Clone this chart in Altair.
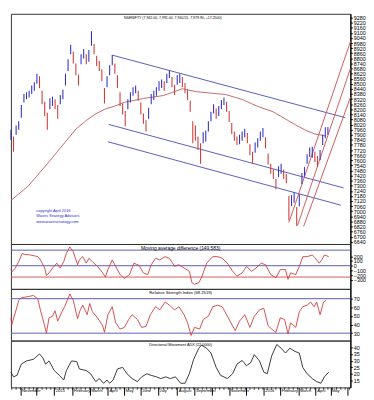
import altair as alt
import pandas as pd

# ---------------- data ----------------
# price bars: one bar per 3 trading days, high / low
bar_day = list(range(0, 369, 3))
hi = [7960, 7880, 8010, 8060, 8250, 8380, 8400, 8420, 8480, 8520,
      8620, 8590, 8420, 8290, 8160, 8330, 8350, 8320, 8250, 8370,
      8430, 8620, 8790, 8960, 8880, 8740, 8610, 8850, 8910, 8850,
      8900, 9119, 8970, 8830, 8770, 8670, 8450, 8590, 8720, 8840,
      8740, 8600, 8400, 8270, 8180, 8320, 8400, 8460, 8480, 8420,
      8280, 8150, 8070, 8220, 8380, 8420, 8460, 8530, 8550, 8530,
      8620, 8655, 8580, 8490, 8600, 8620, 8580, 8510, 8430, 8300,
      8060, 8010, 7880, 7800, 7930, 7950, 8060, 8170, 8260, 8210,
      8240, 8310, 8340, 8290, 8180, 8040, 7940, 7880, 7900, 7940,
      7970, 7920, 7790, 7700, 7810, 7860, 7940, 7980, 7870, 7680,
      7560, 7490, 7380, 7530, 7560, 7490, 7440, 7180, 7190, 7220,
      7050, 7200, 7450, 7520, 7670, 7750, 7760, 7700, 7650, 7720,
      7900, 7990, 7991]
lo = [7840, 7700, 7900, 7960, 8100, 8280, 8320, 8340, 8380, 8420,
      8500, 8450, 8260, 8120, 7960, 8200, 8240, 8200, 8090, 8260,
      8320, 8480, 8650, 8850, 8740, 8600, 8480, 8730, 8800, 8730,
      8760, 8950, 8850, 8710, 8650, 8530, 8270, 8460, 8600, 8720,
      8620, 8450, 8240, 8140, 8000, 8200, 8280, 8360, 8390, 8300,
      8140, 8030, 7940, 8090, 8260, 8310, 8360, 8420, 8450, 8420,
      8510, 8570, 8460, 8370, 8490, 8510, 8460, 8390, 8310, 8170,
      7800, 7830, 7720, 7560, 7800, 7820, 7940, 8060, 8150, 8090,
      8120, 8200, 8250, 8170, 8050, 7910, 7830, 7780, 7790, 7830,
      7870, 7800, 7660, 7560, 7690, 7750, 7830, 7870, 7740, 7550,
      7440, 7380, 7260, 7400, 7440, 7380, 7330, 6890, 7060, 7100,
      6825, 7060, 7320, 7410, 7560, 7640, 7630, 7580, 7520, 7600,
      7780, 7860, 7900]

ma_day = [0, 20, 42, 64, 76, 87, 98, 109, 120, 131, 153, 176, 198, 214,
          237, 248, 267, 284, 303, 322, 340, 351, 364]
ma_val = [7127, 7297, 7558, 7830, 7977, 8068, 8147, 8204, 8238, 8283, 8328,
          8362, 8442, 8408, 8385, 8374, 8317, 8238, 8170, 8056, 7954, 7909, 7887]

# falling channel (blue) and rising channel (red): start / end points
chan_day1 = [117, 113, 112]
chan_val1 = [8838, 8022, 7818]
chan_day2 = [386, 384, 381]
chan_val2 = [8102, 7275, 7071]
rise_day1 = [321, 331, 338]
rise_val1 = [6867, 6833, 6821]
rise_day2 = [392, 392, 392]
rise_val2 = [8997, 8680, 8340]

mad_day = [0, 1, 5, 9, 13, 16, 23, 31, 34, 39, 41, 44, 48, 53, 57, 61, 64, 68, 72, 77,
           79, 83, 87, 90, 94, 100, 106, 109, 112, 117, 122, 126, 131, 137, 142, 148,
           153, 158, 162, 167, 172, 178, 183, 189, 194, 200, 206, 209, 212, 217, 220,
           226, 233, 239, 244, 250, 256, 261, 267, 272, 278, 283, 289, 294, 300, 306,
           311, 317, 320, 323, 329, 333, 337, 342, 348, 351, 356, 359, 362, 367]
mad_val = [-82, -132, -49, 89, 260, 239, 227, 192, 124, -49, -206, -152, -49, 54, -49,
           89, 260, 398, 295, 21, 124, 192, 54, 157, 89, -14, -152, -241, -82, 124,
           -49, -186, -268, -186, 54, 6, -152, -186, 21, 157, 124, 192, 157, -14, 21,
           -49, -117, -359, -392, -359, -255, 54, 192, 192, 157, 54, -117, -220, -152,
           -14, -117, -49, 54, 21, -186, -255, -82, -82, -288, -152, -186, -14, 192,
           192, 227, 171, 54, 124, 227, 192]
mad_upper, mad_zero, mad_lower = 330, 0, -240

rsi_day = [0, 1, 6, 9, 12, 20, 26, 31, 34, 39, 41, 44, 48, 51, 54, 59, 62, 68, 72, 77,
           80, 83, 88, 91, 94, 100, 106, 108, 112, 117, 121, 126, 131, 136, 140, 146,
           151, 156, 161, 167, 172, 178, 183, 189, 194, 200, 204, 208, 212, 218, 222,
           228, 233, 239, 244, 250, 256, 259, 264, 270, 276, 281, 287, 292, 297, 301,
           306, 311, 316, 320, 323, 329, 333, 337, 342, 346, 350, 353, 357, 361, 364]
rsi_val = [47.8, 40, 57, 68, 71, 72.5, 73.7, 70, 57, 38.5, 30, 47.8, 49.6, 56, 44, 55,
           60.7, 75.5, 68, 46.7, 57, 62.5, 51.4, 64.4, 55, 47.8, 38.5, 31, 51.4, 60.7,
           42, 34.8, 36.7, 45.9, 51.4, 45.9, 36.7, 37.8, 51.4, 60.7, 57, 66.2, 62.5, 57,
           60.7, 51.4, 42, 27.3, 36.7, 34.8, 45.9, 49.6, 60.7, 62.5, 60.7, 49.6, 38.5,
           33, 44, 51.4, 36.7, 49.6, 57, 58.9, 38.5, 34.8, 31, 47.8, 45.9, 29.2, 42,
           36.7, 55, 60.7, 62.5, 66.2, 60.7, 66.2, 51.4, 66.2, 68.1]
rsi_levels = [70, 30]

adx_day = [0, 3, 7, 12, 18, 26, 33, 37, 40, 44, 50, 56, 61, 64, 70, 76, 79, 87, 92, 98,
           102, 107, 111, 114, 118, 123, 129, 134, 140, 146, 151, 157, 162, 168, 173,
           179, 184, 190, 196, 201, 206, 211, 217, 220, 226, 231, 237, 242, 250, 256,
           261, 267, 272, 277, 281, 287, 292, 296, 301, 307, 312, 317, 322, 328, 333,
           337, 342, 348, 353, 358, 362, 367]
adx_val = [21.4, 17.9, 19, 27.4, 29.8, 31, 35, 32, 27.4, 29.8, 22.6, 19, 15.5, 22.6,
           29.8, 29.3, 23.8, 22.6, 20.2, 14.3, 16.6, 13.1, 15.5, 13.1, 15.5, 23.8, 25,
           20.2, 16.6, 14.3, 17.9, 20.2, 19, 17.9, 16.6, 17.9, 16.6, 17.9, 13.1, 13.1,
           20.2, 31, 39.3, 41.6, 39.3, 35.7, 25, 19, 16.6, 20.2, 27.4, 30.2, 26.2, 28.6,
           34.5, 29.8, 21.4, 20.2, 33.4, 42.1, 39.3, 35.7, 39.3, 36.9, 35.7, 25, 20.2,
           16.6, 14.3, 13.1, 17.9, 21.4]

price_ticks = list(range(6640, 9281, 60))
mad_ticks = [-300, -200, -100, 0, 100, 200]
rsi_ticks = [30, 40, 50, 60, 70]
adx_ticks = [15, 20, 25, 30, 35, 40]

month_day = [11, 29, 50, 71, 91, 112, 131, 150, 170, 192, 212, 232, 252, 272, 292,
             311, 332, 352, 369, 389]
month_label = ["November", "", "2015", "February", "March", "April", "May", "June",
               "July", "August", "September", "", "November", "", "2016", "February",
               "March", "April", "May", ""]
week_day = list(range(1, 392, 5))

title_main = "NSENIFTY (7,942.00, 7,991.00, 7,940.55, 7,979.90, +17.2500)"
title_mad = "Moving average difference (149.583)"
title_rsi = "Relative Strength Index (68.2519)"
title_adx = "Directional Movement ADX (22.0000)"
copyright_lines = ["copyright April 2016", "Waves Strategy Advisors", "www.wavesstrategy.com"]

# ---------------- layout / style ----------------
W = 348
H_MAIN, H_MAD, H_RSI, H_ADX = 236, 46, 53, 48
FONT = "Liberation Sans"
BLUE = "#3434c8"
RED = "#d03c3c"
LBLUE = "#5a5ab8"
LRED = "#d05a5a"

xs = alt.Scale(domain=[0, 392], nice=False, zero=False)
x_none = alt.X("day:Q", scale=xs, axis=None)


def raxis(vals):
    return alt.Axis(orient="right", values=vals, title=None, grid=False, format="d",
                    labelFontSize=5.5, labelFont=FONT, labelColor="#000",
                    labelPadding=1, tickSize=2, tickColor="#000",
                    domainColor="#000", domainWidth=1.2, labelOverlap=False,
                    labelFlush=False)


def text_layer(txt, x, y, size, color="#000", align="center"):
    return alt.Chart(pd.DataFrame({"t": [txt]})).mark_text(
        font=FONT, fontSize=size, color=color, align=align, baseline="middle"
    ).encode(x=alt.value(x), y=alt.value(y), text="t:N")


# ---------------- main price panel ----------------
bars = pd.DataFrame({"day": bar_day, "price": lo, "price_hi": hi})
mid = [(a + b) / 2 for a, b in zip(hi, lo)]
bars["dir"] = ["up" if i == 0 or mid[i] >= mid[i - 1] else "down" for i in range(len(mid))]

py = alt.Scale(domain=[6614, 9325], nice=False, zero=False)
pax = raxis(price_ticks)

bar_layer = alt.Chart(bars).mark_rule(strokeWidth=1.1).encode(
    x=x_none,
    y=alt.Y("price:Q", scale=py, axis=pax),
    y2="price_hi:Q",
    color=alt.Color("dir:N", scale=alt.Scale(domain=["up", "down"], range=[BLUE, RED]),
                    legend=None),
)
ma_layer = alt.Chart(pd.DataFrame({"day": ma_day, "price": ma_val})).mark_line(
    color="#c46a6a", strokeWidth=1).encode(
    x=x_none, y=alt.Y("price:Q", scale=py, axis=pax))

chan_df = pd.DataFrame({"day": chan_day1, "price": chan_val1,
                        "day_end": chan_day2, "price_end": chan_val2})
chan_layer = alt.Chart(chan_df).mark_rule(color=LBLUE, strokeWidth=1).encode(
    x=x_none, y=alt.Y("price:Q", scale=py, axis=pax), x2="day_end:Q", y2="price_end:Q")

rise_df = pd.DataFrame({"day": rise_day1, "price": rise_val1,
                        "day_end": rise_day2, "price_end": rise_val2})
rise_layer = alt.Chart(rise_df).mark_rule(color=LRED, strokeWidth=1).encode(
    x=x_none, y=alt.Y("price:Q", scale=py, axis=pax), x2="day_end:Q", y2="price_end:Q")

main = alt.layer(
    chan_layer, rise_layer, ma_layer, bar_layer,
    text_layer(title_main, 166, 4, 3.6),
    text_layer(copyright_lines[0], 26, 202, 4, "#2a2ad0", "left"),
    text_layer(copyright_lines[1], 26, 207.5, 4, "#2a2ad0", "left"),
    text_layer(copyright_lines[2], 26, 213, 4, "#2a2ad0", "left"),
).properties(width=W, height=H_MAIN)

# ---------------- moving average difference ----------------
my = alt.Scale(domain=[-490, 460], nice=False, zero=False)
max_ = raxis(mad_ticks)
mad = alt.layer(
    alt.Chart(pd.DataFrame({"v": [mad_upper, mad_zero]})).mark_rule(
        color=LBLUE, strokeWidth=1).encode(y=alt.Y("v:Q", scale=my, axis=max_)),
    alt.Chart(pd.DataFrame({"v": [mad_lower]})).mark_rule(
        color=LRED, strokeWidth=1).encode(y=alt.Y("v:Q", scale=my, axis=max_)),
    alt.Chart(pd.DataFrame({"day": mad_day, "v": mad_val})).mark_line(
        color=RED, strokeWidth=0.9).encode(x=x_none, y=alt.Y("v:Q", scale=my, axis=max_)),
    text_layer(title_mad, 174, 4.5, 5),
).properties(width=W, height=H_MAD)

# ---------------- RSI ----------------
ry = alt.Scale(domain=[21.4, 81.4], nice=False, zero=False)
rax = raxis(rsi_ticks)
rsi = alt.layer(
    alt.Chart(pd.DataFrame({"v": rsi_levels})).mark_rule(
        color=LBLUE, strokeWidth=1).encode(y=alt.Y("v:Q", scale=ry, axis=rax)),
    alt.Chart(pd.DataFrame({"day": rsi_day, "v": rsi_val})).mark_line(
        color=RED, strokeWidth=0.9).encode(x=x_none, y=alt.Y("v:Q", scale=ry, axis=rax)),
    text_layer(title_rsi, 174, 4.5, 4.3),
).properties(width=W, height=H_RSI)

# ---------------- ADX ----------------
ay = alt.Scale(domain=[10, 45], nice=False, zero=False)
aax = raxis(adx_ticks)
label_expr = ("[" + ",".join("'" + s + "'" for s in month_label) + "][indexof(["
              + ",".join(str(d) for d in month_day) + "], datum.value)]")
xax = alt.Axis(values=month_day, labelExpr=label_expr, title=None, grid=False,
               domain=False, tickSize=8, tickColor="#000", labelAlign="left",
               labelBaseline="top", labelPadding=-7, labelOffset=1,
               labelFontSize=4.2, labelFont=FONT, labelColor="#000",
               labelOverlap=False, labelFlush=False)
x_bot = alt.X("day:Q", scale=xs, axis=xax)

adx = alt.layer(
    alt.Chart(pd.DataFrame({"day": adx_day, "v": adx_val})).mark_line(
        color="#222", strokeWidth=0.9).encode(x=x_bot, y=alt.Y("v:Q", scale=ay, axis=aax)),
    alt.Chart(pd.DataFrame({"day": week_day})).mark_rule(
        color="#000", strokeWidth=0.7).encode(
        x=x_bot, y=alt.value(H_ADX), y2=alt.value(H_ADX + 2.5)),
    text_layer(title_adx, 174, 4.5, 3.9),
).properties(width=W, height=H_ADX)

chart = alt.vconcat(main, mad, rsi, adx, spacing=0, bounds="flush").properties(
    padding=0, background="white"
).configure_view(stroke="#333", strokeWidth=1)

chart.save("out.html", embed_options={"renderer": "svg", "actions": False})
